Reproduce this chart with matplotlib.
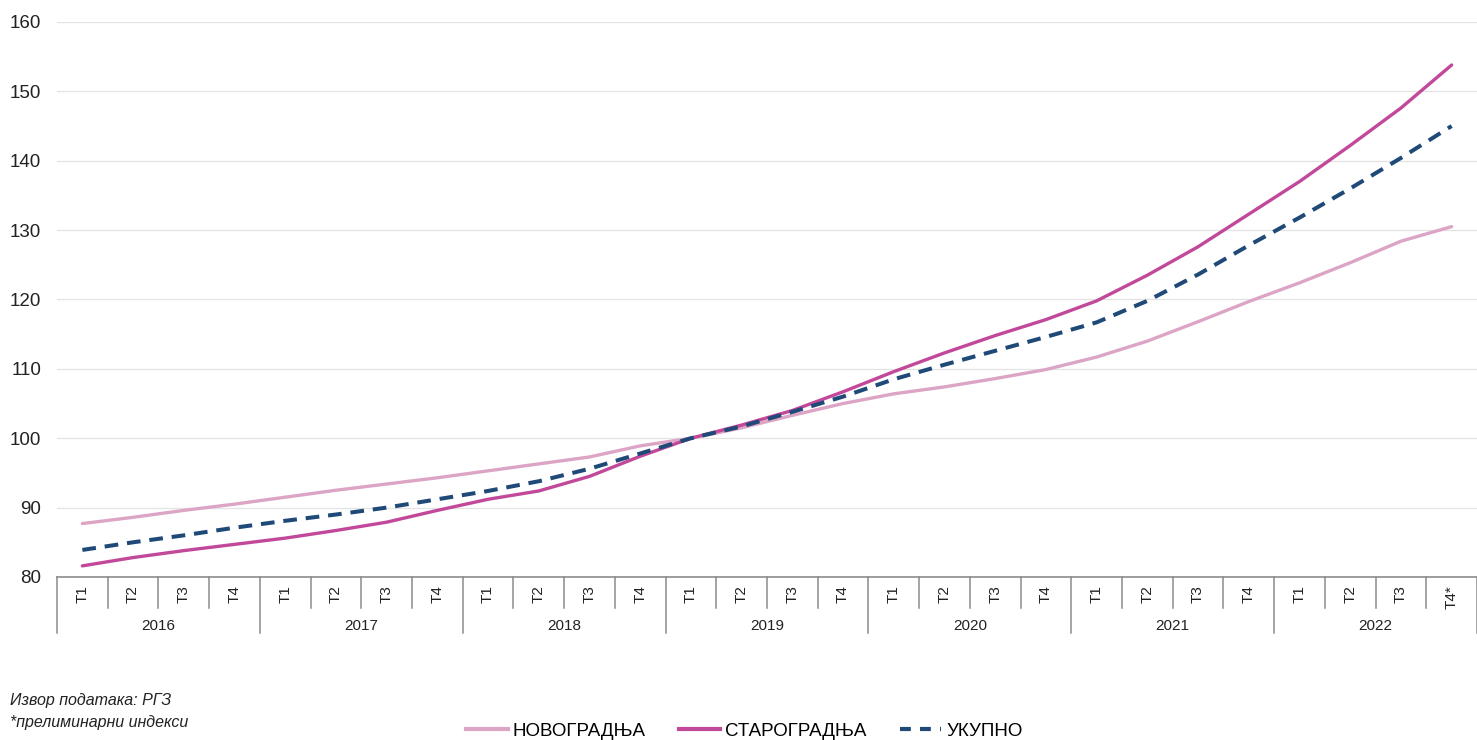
import matplotlib.pyplot as plt
import matplotlib.transforms as mtransforms
from matplotlib.lines import Line2D

plt.rcParams['font.family'] = ['Liberation Sans', 'DejaVu Sans']

years = ['2016', '2017', '2018', '2019', '2020', '2021', '2022']
quarters = ['Т1', 'Т2', 'Т3', 'Т4'] * 6 + ['Т1', 'Т2', 'Т3', 'Т4*']

novogradnja = [87.7, 88.6, 89.6, 90.5, 91.5, 92.5, 93.4, 94.3, 95.3, 96.3, 97.3, 98.9,
               100.0, 101.5, 103.3, 105.0, 106.4, 107.4, 108.6, 109.9,
               111.7, 114.0, 116.8, 119.7, 122.4, 125.3, 128.4, 130.5]
starogradnja = [81.6, 82.8, 83.8, 84.7, 85.6, 86.7, 87.9, 89.6, 91.2, 92.4, 94.5, 97.4,
                100.0, 101.9, 104.0, 106.7, 109.6, 112.3, 114.8, 117.1,
                119.8, 123.5, 127.6, 132.3, 137.0, 142.2, 147.6, 153.8]
ukupno = [83.9, 85.0, 86.0, 87.1, 88.1, 89.0, 90.0, 91.2, 92.4, 93.8, 95.6, 97.8,
          100.0, 101.7, 103.8, 106.0, 108.5, 110.6, 112.6, 114.6,
          116.7, 119.8, 123.6, 127.8, 131.8, 136.0, 140.4, 145.0]

c_novo = '#dca5c5'
c_staro = '#c2489a'
c_uk = '#1f4a78'
sep_color = '#8c8c8c'

fig = plt.figure(figsize=(14.77, 7.40), dpi=100)
ax = fig.add_axes([0.0386, 0.2203, 0.9614, 0.7500])

x = list(range(len(quarters)))
ax.plot(x, novogradnja, color=c_novo, lw=2.4, solid_capstyle='round', zorder=3)
ax.plot(x, starogradnja, color=c_staro, lw=2.4, solid_capstyle='round', zorder=4)
ax.plot(x, ukupno, color=c_uk, lw=2.9, dashes=(3.4, 2.2), zorder=5)

ax.set_xlim(-0.5, len(quarters) - 0.5)
ax.set_ylim(80, 160)
ax.set_yticks(range(80, 161, 10))
ax.tick_params(axis='y', length=0, labelsize=13.5, pad=11.5, labelcolor='#222222')
ax.yaxis.grid(True, color='#e3e3e3', lw=0.9)
ax.set_axisbelow(True)
for s in ['top', 'right', 'left']:
    ax.spines[s].set_visible(False)
ax.spines['bottom'].set_color(sep_color)
ax.spines['bottom'].set_linewidth(1.2)

# two-level category axis
ax.set_xticks(x)
ax.set_xticklabels(quarters, rotation=90, fontsize=11, color='#222222')
ax.tick_params(axis='x', length=0, pad=6)

trans = mtransforms.blended_transform_factory(ax.transData, ax.transAxes)
for i in range(len(quarters) + 1):
    bottom = -0.101 if i % 4 == 0 else -0.056
    ax.plot([i - 0.5, i - 0.5], [0, bottom], color=sep_color, lw=1.1,
            transform=trans, clip_on=False)
for j, yr in enumerate(years):
    ax.text(j * 4 + 1.5, -0.088, yr, transform=trans, ha='center', va='center',
            fontsize=11, color='#222222')

fig.text(0.007, 0.053, 'Извор података: РГЗ', fontsize=11.5, style='italic',
         ha='left', va='center', color='#222222')
fig.text(0.007, 0.023, '*прелиминарни индекси', fontsize=11.5, style='italic',
         ha='left', va='center', color='#222222')

handles = [Line2D([0], [0], color=c_novo, lw=3),
           Line2D([0], [0], color=c_staro, lw=3),
           Line2D([0], [0], color=c_uk, lw=3, dashes=(2.6, 2.2))]
fig.legend(handles, ['НОВОГРАДЊА', 'СТАРОГРАДЊА', 'УКУПНО'], loc='center',
           bbox_to_anchor=(0.504, 0.012), ncol=3, frameon=False, fontsize=13.5,
           handlelength=2.2, handletextpad=0.25, columnspacing=1.8)

fig.savefig('out.png', dpi=100)
